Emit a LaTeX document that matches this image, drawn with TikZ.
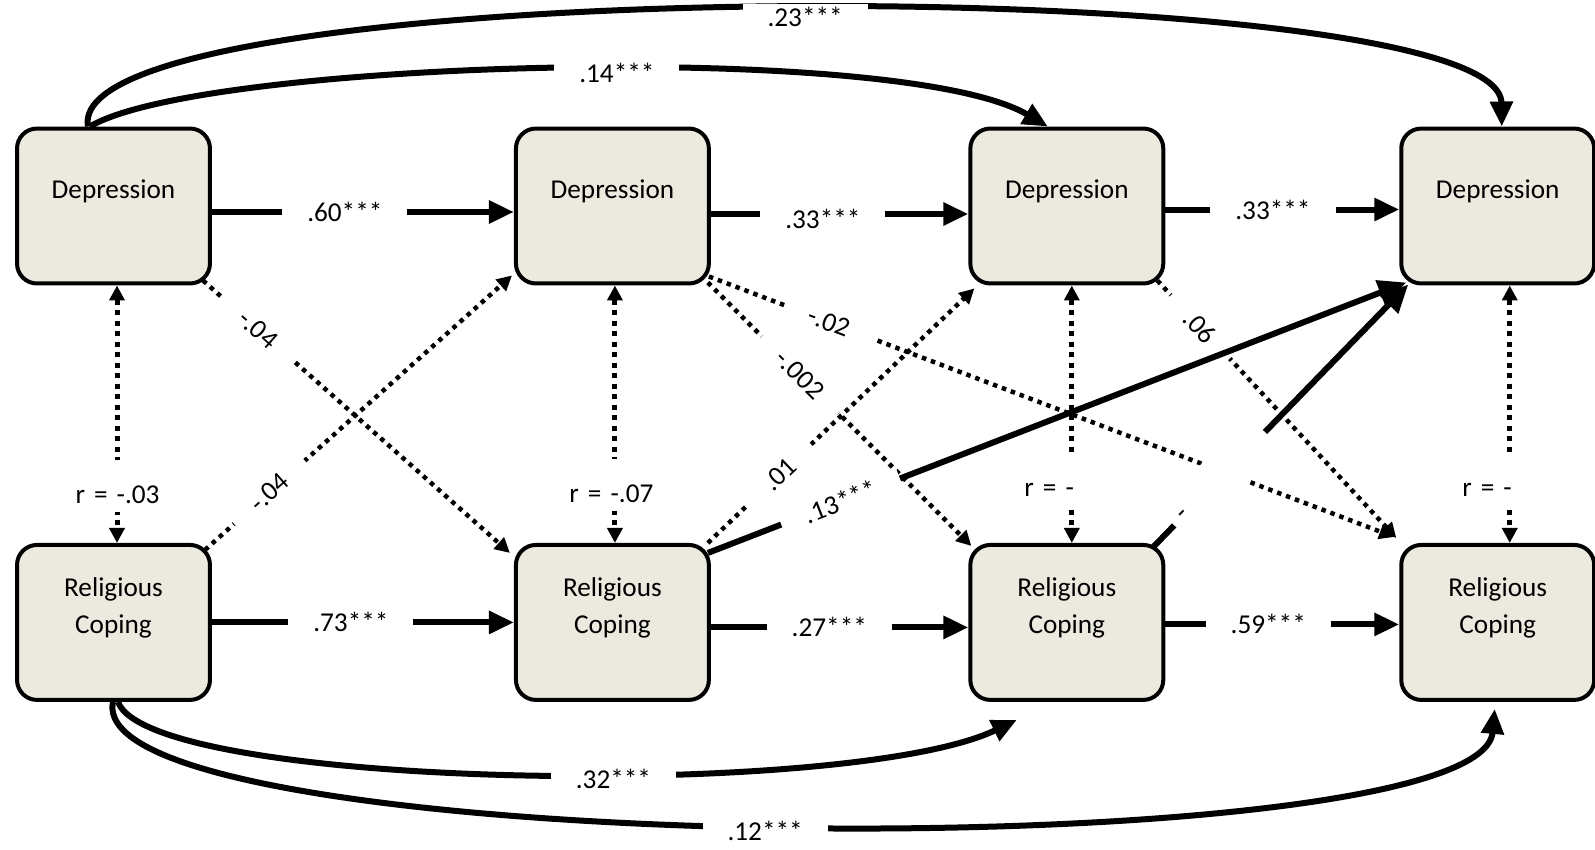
\documentclass[tikz,border=0pt]{standalone}
\usepackage{fontspec}
\setmainfont{Carlito}
\usepackage{tikz}
\usetikzlibrary{arrows.meta, positioning}
\tikzset{>={Triangle[length=0.5cm,width=0.44cm]}}
\definecolor{boxfill}{RGB}{236,233,223}
\tikzset{
  every node/.style={font=\fontsize{15.5}{21}\selectfont},
  box/.style={draw, line width=0.08cm, rounded corners=0.4cm, fill=boxfill,
    minimum width=3.86cm, minimum height=3.1cm},
  boxtext/.style={align=center, yshift=0.29cm},
  lab/.style={fill=white, inner xsep=0.5cm, inner ysep=0.06cm},
  dlab/.style={fill=white, sloped, inner xsep=0.52cm, inner ysep=0.03cm},
  rlab/.style={fill=white, anchor=west, text width=1.7cm, align=left, inner xsep=0.04cm,
    inner ysep=0pt, minimum height=1.04cm, text height=0.7cm, text depth=0pt},
  stab/.style={line width=0.12cm, ->},
  lagsig/.style={line width=0.12cm, -{Triangle[length=0.56cm,width=0.5cm]}},
  lagdot/.style={line width=0.09cm, dash pattern=on 0.09cm off 0.1cm,
    -{Triangle[length=0.3cm,width=0.3cm]}},
  corr/.style={line width=0.1cm, dash pattern=on 0.1cm off 0.11cm,
    {Triangle[length=0.3cm,width=0.3cm]}-{Triangle[length=0.3cm,width=0.3cm]}}
}

\begin{document}
\begin{tikzpicture}[x=0.02cm, y=-0.02cm, on grid]
\useasboundingbox (0,0) rectangle (1595,849);

\node (d1) [box, label={[boxtext]center:Depression}] at (113.5,206) {};
\node (d2) [box, right=9.98cm of d1, label={[boxtext]center:Depression}] {};
\node (d3) [box, right=9.09cm of d2, label={[boxtext]center:Depression}] {};
\node (d4) [box, right=8.62cm of d3, label={[boxtext]center:Depression}] {};
\node (r1) [box, below=8.33cm of d1, label={[boxtext]center:{Religious\\Coping}}] {};
\node (r2) [box, below=8.33cm of d2, label={[boxtext]center:{Religious\\Coping}}] {};
\node (r3) [box, below=8.33cm of d3, label={[boxtext]center:{Religious\\Coping}}] {};
\node (r4) [box, below=8.33cm of d4, label={[boxtext]center:{Religious\\Coping}}] {};

\path[stab]
  ([yshift=-0.12cm]d1.east) edge node[lab, pos=.44] {.60***} ([yshift=-0.12cm]d2.west)
  ([yshift=-0.16cm]d2.east) edge node[lab, pos=.435, yshift=-0.1cm] {.33***} ([yshift=-0.16cm]d3.west)
  ([yshift=-0.07cm]d3.east) edge node[lab, pos=.46] {.33***} ([yshift=-0.07cm]d4.west)
  (r1) edge node[lab, pos=.46] {.73***} (r2)
  ([yshift=-0.1cm]r2.east) edge node[lab, pos=.46] {.27***} ([yshift=-0.1cm]r3.west)
  ([yshift=-0.04cm]r3.east) edge node[lab, pos=.44] {.59***} ([yshift=-0.04cm]r4.west);

\draw[stab] ([xshift=-0.51cm]d1.north) .. controls (60,-30) and (1500,-30) ..
  ([xshift=0.08cm]d4.north) node[lab, pos=.51, yshift=-0.16cm] {.23***};
\draw[stab] ([xshift=-0.47cm]d1.north) .. controls (200,60) and (900,40) ..
  ([xshift=-0.38cm]d3.north) node[lab, pos=.55, yshift=-0.08cm] {.14***};
\draw[stab] ([xshift=0.09cm]r1.south) .. controls (150,790) and (850,800) ..
  ([shift={(-50,18)}]r3.south) node[lab, pos=.58, yshift=-0.1cm] {.32***};
\draw[stab] ([xshift=-0.01cm]r1.south) .. controls (80,860) and (1480,870) ..
  ([shift={(-3,7)}]r4.south) node[lab, pos=.49, yshift=-0.12cm] {.12***};

\path[corr]
  ([xshift=0.07cm]d1.south) edge node[rlab, pos=.78, xshift=-0.92cm] {r = -.03} ([xshift=0.07cm]r1.north)
  ([xshift=0.05cm]d2.south) edge node[rlab, pos=.775, xshift=-1cm] {r = -.07} ([xshift=0.05cm]r2.north)
  ([xshift=0.1cm]d3.south) edge node[rlab, pos=.75, xshift=-1.04cm] {r = -} ([xshift=0.1cm]r3.north)
  ([xshift=0.24cm]d4.south) edge node[rlab, pos=.75, xshift=-1.04cm] {r = -} ([xshift=0.24cm]r4.north);

\path[lagdot]
  ([shift={(-9,-5)}]d1.south east) edge node[dlab, pos=.18] {-.04} ([shift={(-4,10)}]r2.north west)
  ([shift={(-7,7)}]r1.north east) edge node[dlab, pos=.21] {-.04} ([shift={(-2,-10)}]d2.south west)
  ([shift={(-3,-3)}]d2.south east) edge node[dlab, pos=.35] {-.002} ([shift={(3,3)}]r3.north west)
  ([shift={(-2,-9)}]d2.south east) edge node[dlab, pos=.175] {-.02} ([shift={(-5,-6)}]r4.north west)
  ([shift={(-8,-5)}]d3.south east) edge node[dlab, pos=.18] {.06} ([shift={(-3,-5)}]r4.north west)
  ([shift={(-3,0)}]r2.north east) edge node[dlab, pos=.27] {.01} ([shift={(6,3)}]d3.south west);

\path[lagsig]
  ([shift={(-3,10)}]r2.north east) edge node[dlab, pos=.19] {.13***} ([shift={(7,-3)}]d4.south west)
  ([shift={(-12,4)}]r3.north east) edge node[dlab, pos=.26, text width=2.2cm, align=left,
    inner xsep=0.2cm, inner ysep=0.38cm] {-} ([shift={(9,-1)}]d4.south west);
\end{tikzpicture}
\end{document}
